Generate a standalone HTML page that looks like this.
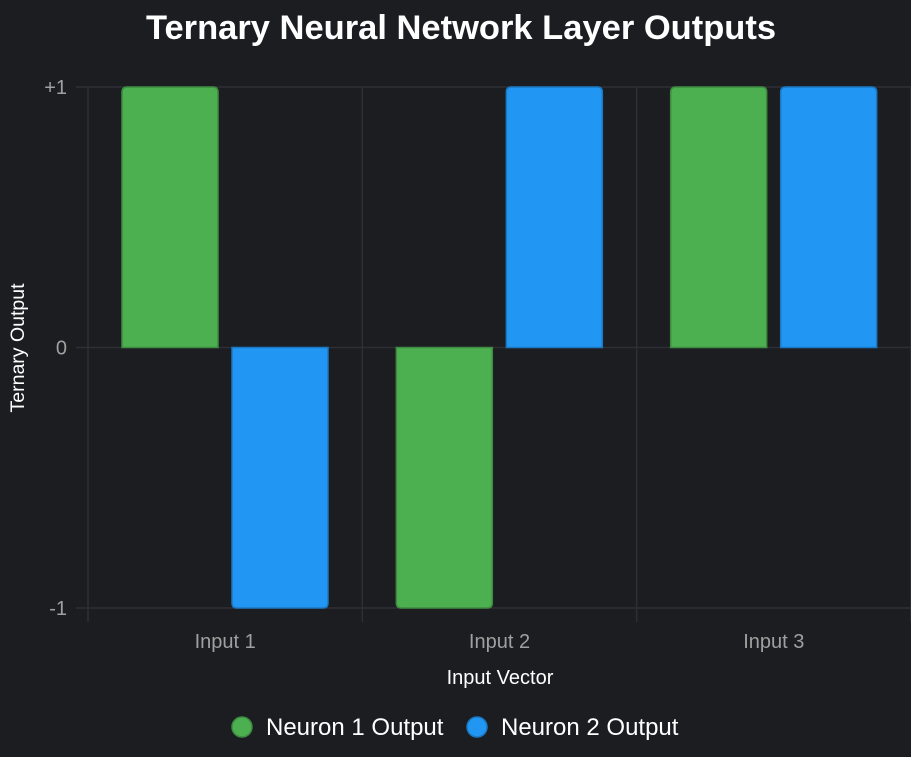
<!DOCTYPE html>
<html><head><meta charset="utf-8"><style>
body{margin:0;background:#1c1d21;}
svg{display:block;font-family:"Liberation Sans",sans-serif;}
</style></head><body>
<svg width="911" height="757">
<rect width="911" height="757" fill="#1c1d21"/>
<text x="461" y="39" text-anchor="middle" font-size="34.5" font-weight="bold" fill="#ffffff">Ternary Neural Network Layer Outputs</text>
<g id="grid"></g>
<g id="bars"></g>
<g id="labels"></g>
<text transform="translate(24,348) rotate(-90)" text-anchor="middle" font-size="19.5" fill="#ffffff">Ternary Output</text>
<text x="500" y="684" text-anchor="middle" font-size="20" fill="#ffffff">Input Vector</text>
<g>
<g>
<circle cx="242" cy="727" r="10" fill="#4caf50" stroke="#3d8b40" stroke-width="1.5"/>
<text x="266" y="735" font-size="24" fill="#ffffff">Neuron 1 Output</text></g>
<g>
<circle cx="477" cy="727" r="10" fill="#2196f3" stroke="#1a78c2" stroke-width="1.5"/>
<text x="501" y="735" font-size="24" fill="#ffffff">Neuron 2 Output</text></g>
</g>
</svg>
<script>
const categories=["Input 1","Input 2","Input 3"];
const neuron1=[1,-1,1];
const neuron2=[-1,1,1];
const yTicks=[1,0,-1];
const yTickLabels=["+1","0","-1"];
const NS="http://www.w3.org/2000/svg";
const x0=88,x1=911,yTop=87,yBot=608;
const bandW=(x1-x0)/categories.length;
function y(v){return yTop+(1-v)/2*(yBot-yTop);}
function mk(tag,attrs,parent){const e=document.createElementNS(NS,tag);for(const k in attrs)e.setAttribute(k,attrs[k]);parent.appendChild(e);return e;}
const grid=document.getElementById('grid'),bars=document.getElementById('bars'),labels=document.getElementById('labels');
yTicks.forEach((t,i)=>{
 const l=mk('line',{x1:76,x2:x1,y1:y(t),y2:y(t),stroke:'#2e2f35','stroke-width':1.5},grid);
 
 
 const tx=mk('text',{x:67,y:y(t)+7,'text-anchor':'end','font-size':20,fill:'#a0a0a0'},labels);
 tx.textContent=yTickLabels[i];
 
 
});
for(let i=0;i<=categories.length;i++){
 const l=mk('line',{x1:x0+i*bandW,x2:x0+i*bandW,y1:yTop,y2:622,stroke:'#2e2f35','stroke-width':1.5},grid);
 
 
}
function bar(cx,v,fill,stroke,name){
 const w=96,r=5,x=cx,y0=y(0),y1=y(v);
 let d;
 if(v>=0)d=`M${x},${y0}V${y1+r}Q${x},${y1} ${x+r},${y1}H${x+w-r}Q${x+w},${y1} ${x+w},${y1+r}V${y0}Z`;
 else d=`M${x},${y0}V${y1-r}Q${x},${y1} ${x+r},${y1}H${x+w-r}Q${x+w},${y1} ${x+w},${y1-r}V${y0}Z`;
 const p=mk('path',{d:d,fill:fill,stroke:stroke,'stroke-width':1.5},bars);
 
 
}
categories.forEach((c,i)=>{
 const bx=x0+i*bandW;
 bar(bx+34,neuron1[i],'#4caf50','#3d8b40','bar-neuron1-'+(i+1));
 bar(bx+144,neuron2[i],'#2196f3','#1a78c2','bar-neuron2-'+(i+1));
 const t=mk('text',{x:bx+bandW/2,y:648,'text-anchor':'middle','font-size':20,fill:'#a0a0a0'},labels);
 t.textContent=c;
 
 
});
</script>
</body></html>
